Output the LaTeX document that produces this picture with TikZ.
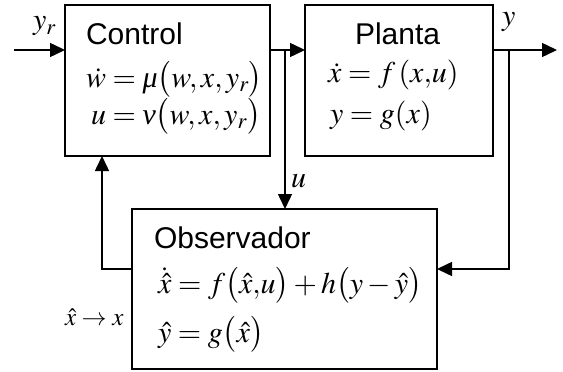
\documentclass[tikz,border=0pt]{standalone}
\usepackage{mathptmx}
\usepackage[no-math]{fontspec}
\setmainfont{Liberation Sans}
\newfontfamily\grkfont{Liberation Serif}
\newcommand{\imu}{\mbox{\grkfont\itshape μ}}
\newcommand{\inu}{\mbox{\grkfont\itshape ν}}
\usepackage{tikz}
\usetikzlibrary{arrows.meta, positioning, calc}

\begin{document}
\begin{tikzpicture}[
  x=1pt, y=-1pt,
  every node/.style={inner sep=0pt, outer sep=0pt},
  blk/.style={draw, line width=1.5pt, fill=white},
  ttl/.style={anchor=base west, font=\fontsize{30}{34}\selectfont},
  eq/.style={anchor=base west, font=\fontsize{30}{34}\selectfont},
  lbl/.style={anchor=base west, font=\fontsize{30}{34}\selectfont},
  arr/.style={-{Triangle[length=15pt, width=14pt]}, line width=1.5pt},
]
  \useasboundingbox (0,0) rectangle (563,372);

  % blocks
  \node[blk, minimum width=205pt, minimum height=151pt] (ctrl) at (167.5, 80.5) {};
  \node[blk, minimum width=188pt, minimum height=151pt] (plant) at (399, 80.5) {};
  \node[blk, minimum width=305pt, minimum height=160pt] (obs) at (284.5, 289) {};

  % block contents
  \node[ttl] (ctrlname) at (86, 45) {Control};
  \node[eq] (ctrleqa) at (86, 87) {$\dot{w} = \imu\bigl(w, x, y_r\bigr)$};
  \node[eq] (ctrleqb) at (91, 124) {$u = \inu\bigl(w, x, y_r\bigr)$};

  \node[ttl] (plantname) at (355, 45) {Planta};
  \node[eq] (planteqa) at (328, 82) {$\dot{x} = f\,(x{,}u)$};
  \node[eq] (planteqb) at (330, 123) {$y = g(x)$};

  \node[ttl] (obsname) at (154, 248) {Observador};
  \node[eq] (obseqa) at (158, 293)
    {$\dot{\hat{x}} = f\bigl(\hat{x}{,}u\bigr) + h\bigl(y - \hat{y}\bigr)$};
  \node[eq] (obseqb) at (158, 342) {$\hat{y} = g\bigl(\hat{x}\bigr)$};

  % signals
  \coordinate (in) at (14, 50);
  \coordinate (ju) at (285, 50);
  \coordinate (jy) at (509, 50);
  \coordinate (out) at (557, 50);
  \coordinate (ym) at (509, 269);
  \coordinate (fb) at (102, 269);

  \draw[arr] (in) -- (in -| ctrl.west);
  \node[lbl] (yr) at (33, 30) {$y_r$};

  \draw[arr] (ctrl.east |- ju) -- (plant.west |- ju);
  \draw[arr] (ju) -- (ju |- obs.north);
  \node[lbl] (ulbl) at (291, 187) {$u$};

  \draw[arr] (plant.east |- jy) -- (out);
  \node[lbl] (ylbl) at (502, 26) {$y$};
  \draw[arr] (jy) -- (ym) -- (ym -| obs.east);

  \draw[arr] (obs.west |- fb) -- (fb) -- (fb |- ctrl.south);
  \node[lbl, font=\fontsize{25}{29}\selectfont] (est) at (65, 325)
    {$\hat{x} \rightarrow x$};
\end{tikzpicture}
\end{document}
